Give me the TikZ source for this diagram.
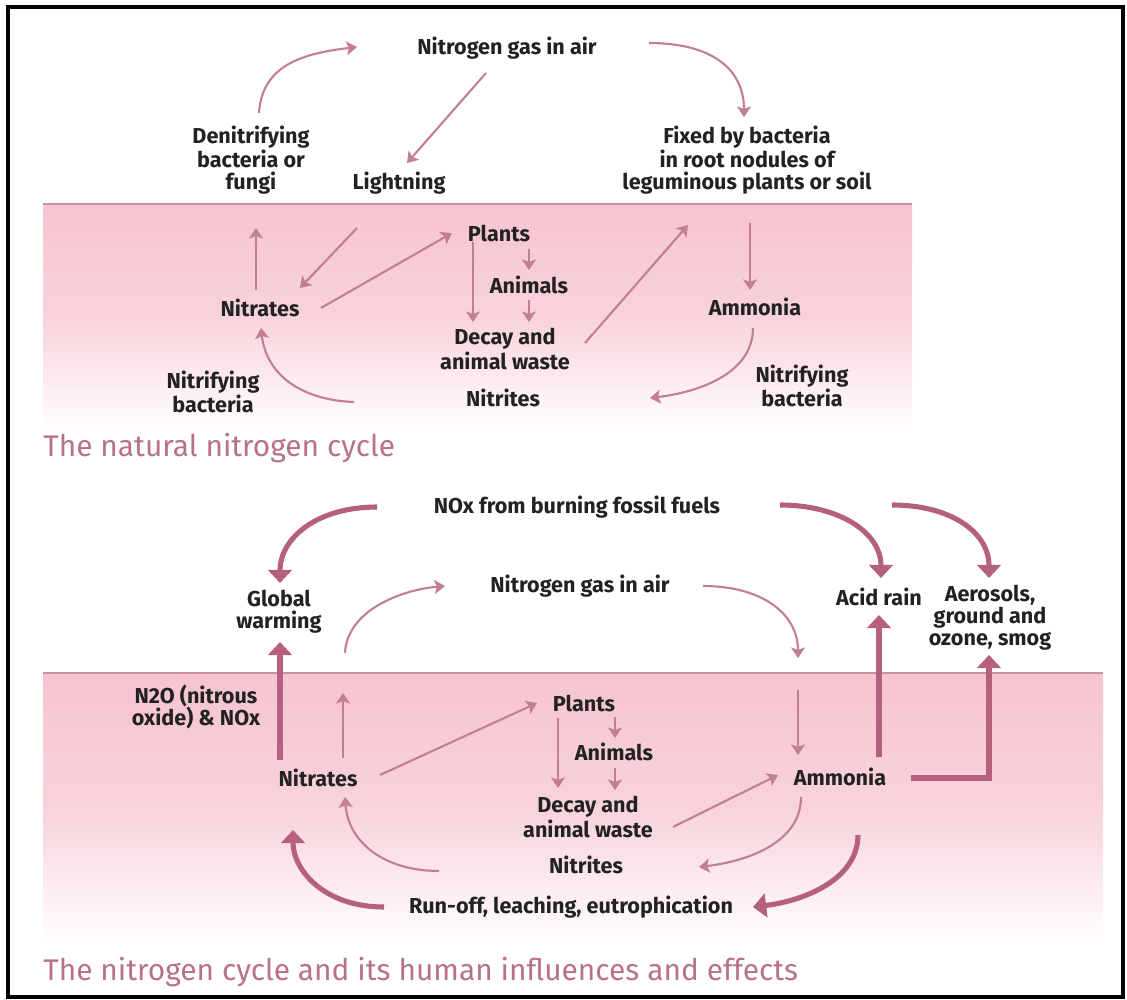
\documentclass[tikz,border=0pt]{standalone}
\usepackage{fontspec}
\setmainfont{Fira Sans}
\usetikzlibrary{arrows.meta, calc}

\definecolor{bandpink}{HTML}{F6C4D0}
\definecolor{bandline}{HTML}{C9909F}
\definecolor{thinpink}{HTML}{C27E95}
\definecolor{thickpink}{HTML}{B4607E}
\definecolor{titlepink}{HTML}{B8718A}
\definecolor{labeltext}{HTML}{222222}

\begin{document}
\begin{tikzpicture}[x=0.02cm, y=-0.02cm,
  lbl/.style={font=\bfseries\fontsize{12.3}{12.6}\selectfont, text=labeltext, align=center, inner sep=1pt},
  thinarr/.style={draw=thinpink, line width=1.2pt, -{Stealth[width=8pt,length=6pt,inset=1.4pt]}},
  thickarr/.style={draw=thickpink, line width=2.9pt, -{Triangle[width=13.5pt,length=7.5pt]}},
  ttl/.style={font=\fontsize{17}{19}\selectfont, text=titlepink, anchor=west, inner sep=0pt}]

\useasboundingbox (0,0) rectangle (1127,1000);

% soil bands
\shade[top color=bandpink, bottom color=white, middle color=bandpink!75] (43,204) rectangle (912,432);
\draw[bandline, line width=0.9pt] (43,204) -- (912,204);
\shade[top color=bandpink, bottom color=white, middle color=bandpink!75] (43,673) rectangle (1103,945);
\draw[bandline, line width=0.9pt] (43,673) -- (1103,673);

\draw[line width=2.5pt] (8,7) rectangle (1123,997);

%% the natural nitrogen cycle
\node[lbl] (airA) at (507,48) {Nitrogen gas in air};
\node[lbl] (denit) at (251,160) {Denitrifying\\bacteria or\\fungi};
\node[lbl] (lightA) at (399,183) {Lightning};
\node[lbl] (fixed) at (747,160) {Fixed by bacteria\\in root nodules of\\leguminous plants or soil};
\node[lbl] (nitA) at (260,308) {Nitrates};
\node[lbl] (plantsA) at (499,233) {Plants};
\node[lbl] (animA) at (529,285) {Animals};
\node[lbl] (decayA) at (505,349) {Decay and\\animal waste};
\node[lbl] (ammA) at (755,307) {Ammonia};
\node[lbl] (nitriteA) at (503,398) {Nitrites};
\node[lbl] (nbL) at (213,392) {Nitrifying\\bacteria};
\node[lbl] (nbR) at (802,386) {Nitrifying\\bacteria};
\node[ttl] (titleA) at (43,448) {The natural nitrogen cycle};

\draw[thinarr] ($(denit)+(8,-47)$) .. controls +(3,-50) and +(-50,6) .. ($(airA)+(-150,-1)$);
\draw[thinarr] ($(airA)+(-21,25)$) -- ($(lightA)+(8,-20)$);
\draw[thinarr] ($(airA)+(142,-5)$) .. controls +(60,0) and +(0,-50) .. ($(fixed)+(-3,-43)$);
\draw[thinarr] ($(nitA)+(-4,-18)$) -- ($(denit)+(5,68)$);
\draw[thinarr] ($(lightA)+(-42,45)$) -- ($(nitA)+(40,-20)$);
\draw[thinarr] ($(nitA)+(61,0)$) -- ($(plantsA)+(-47,0)$);
\draw[thinarr] ($(plantsA)+(-26,9)$) -- ($(decayA)+(-32,-27)$);
\draw[thinarr] ($(plantsA)+(30,16)$) -- ($(animA)+(0,-15)$);
\draw[thinarr] ($(animA)+(0,15)$) -- ($(decayA)+(24,-27)$);
\draw[thinarr] ($(decayA)+(80,-6)$) -- ($(fixed)+(-59,65)$);
\draw[thinarr] ($(fixed)+(3,63)$) -- ($(ammA)+(-5,-17)$);
\draw[thinarr] ($(ammA)+(-2,21)$) .. controls +(0,45) and +(50,-6) .. ($(nitriteA)+(147,0)$);
\draw[thinarr] ($(nitriteA)+(-149,4)$) .. controls +(-55,-2) and +(5,45) .. ($(nitA)+(1,20)$);

%% human influences
\node[lbl] (nox) at (577,507) {NOx from burning fossil fuels};
\node[lbl] (gw) at (279,612) {Global\\warming};
\node[lbl] (airB) at (580,586) {Nitrogen gas in air};
\node[lbl] (acid) at (879,597) {Acid rain};
\node[lbl] (aero) at (990,618) {Aerosols,\\ground and\\ozone, smog};
\node[lbl] (n2o) at (196,707) {N2O (nitrous\\oxide) \& NOx};
\node[lbl] (nitB) at (318,778) {Nitrates};
\node[lbl] (plantsB) at (584,703) {Plants};
\node[lbl] (animB) at (614,752) {Animals};
\node[lbl] (decayB) at (588,817) {Decay and\\animal waste};
\node[lbl] (ammB) at (840,777) {Ammonia};
\node[lbl] (nitriteB) at (586,865) {Nitrites};
\node[lbl] (runoff) at (571,907) {Run-off, leaching, eutrophication};
\node[ttl] (titleB) at (43,972) {The nitrogen cycle and its human influences and effects};

\draw[thickarr] ($(nox)+(-200,0)$) .. controls +(-60,0) and +(0,-45) .. ($(gw)+(1,-29)$);
\draw[thickarr] ($(nox)+(203,-2)$) .. controls +(60,0) and +(0,-45) .. ($(acid)+(2,-19)$);
\draw[thickarr] ($(nox)+(315,-2)$) .. controls +(60,0) and +(0,-45) .. ($(aero)+(-1,-40)$);
\draw[thickarr] ($(nitB)+(-38,-18)$) -- ($(gw)+(1,30)$);
\draw[thickarr] ($(ammB)+(39,-20)$) -- ($(acid)+(0,18)$);
\draw[thickarr] ($(ammB)+(71,1)$) -| ($(aero)+(-1,37)$);
\draw[thickarr] ($(runoff)+(-187,0)$) .. controls +(-60,0) and +(0,40) .. ($(nitB)+(-25,52)$);
\draw[thickarr] ($(ammB)+(18,58)$) .. controls +(0,45) and +(50,-6) .. ($(runoff)+(182,0)$);

\draw[thinarr] ($(gw)+(66,41)$) .. controls +(2,-42) and +(-45,4) .. ($(airB)+(-135,0)$);
\draw[thinarr] ($(airB)+(123,0)$) .. controls +(58,0) and +(0,-45) .. ($(ammB)+(-42,-119)$);
\draw[thinarr] ($(nitB)+(25,-20)$) -- ($(nitB)+(25,-85)$);
\draw[thinarr] ($(nitB)+(62,-3)$) -- ($(plantsB)+(-47,0)$);
\draw[thinarr] ($(plantsB)+(-26,15)$) -- ($(decayB)+(-30,-29)$);
\draw[thinarr] ($(plantsB)+(31,14)$) -- ($(animB)+(1,-14)$);
\draw[thinarr] ($(animB)+(1,16)$) -- ($(decayB)+(27,-27)$);
\draw[thinarr] ($(decayB)+(85,10)$) -- ($(ammB)+(-62,-2)$);
\draw[thinarr] ($(ammB)+(-42,-87)$) -- ($(ammB)+(-42,-22)$);
\draw[thinarr] ($(ammB)+(-39,20)$) .. controls +(0,45) and +(50,-6) .. ($(nitriteB)+(113,2)$);
\draw[thinarr] ($(nitriteB)+(-147,6)$) .. controls +(-55,0) and +(3,45) .. ($(nitB)+(27,19)$);

\end{tikzpicture}
\end{document}
